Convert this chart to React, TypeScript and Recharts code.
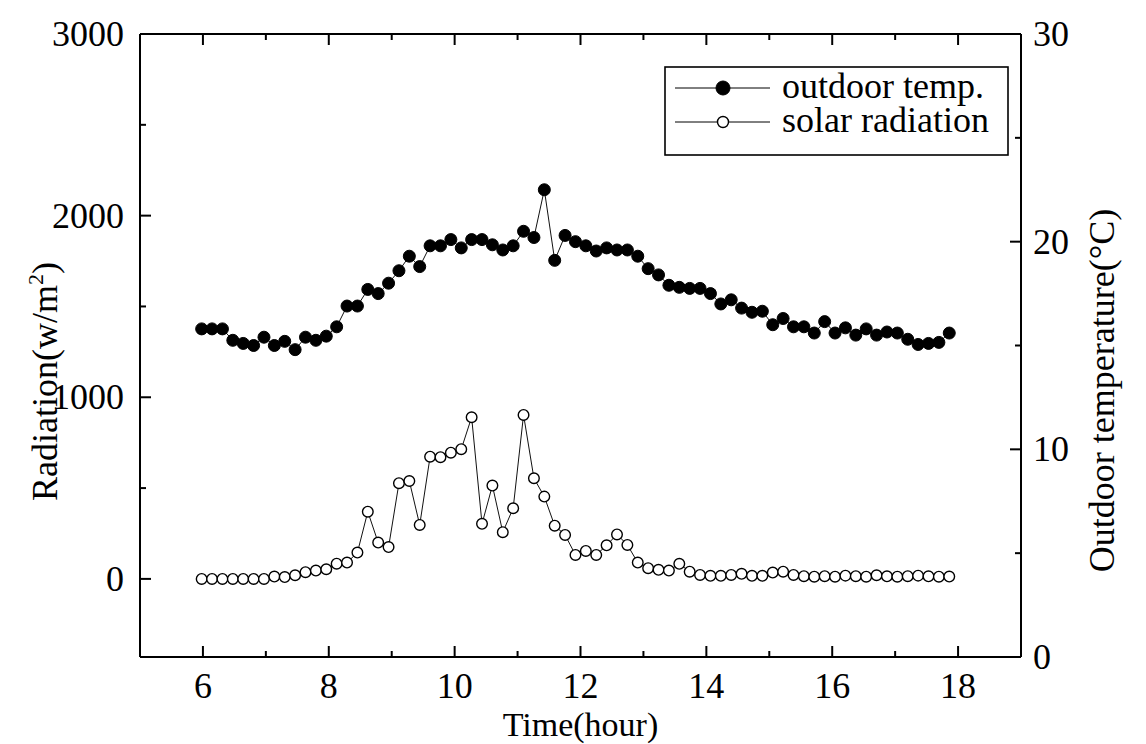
import React from "react";
import { ComposedChart, Line, XAxis, YAxis } from "recharts";

// Sample times (hour of day)
const hours = [
  5.98, 6.145, 6.31, 6.475, 6.64, 6.805, 6.97, 7.135, 7.3, 7.465,
  7.63, 7.795, 7.96, 8.125, 8.29, 8.455, 8.62, 8.785, 8.95, 9.115,
  9.28, 9.445, 9.61, 9.775, 9.94, 10.105, 10.27, 10.435, 10.6, 10.765,
  10.93, 11.095, 11.26, 11.425, 11.59, 11.755, 11.92, 12.085, 12.25, 12.415,
  12.58, 12.745, 12.91, 13.075, 13.24, 13.405, 13.57, 13.735, 13.9, 14.065,
  14.23, 14.395, 14.56, 14.725, 14.89, 15.055, 15.22, 15.385, 15.55, 15.715,
  15.88, 16.045, 16.21, 16.375, 16.54, 16.705, 16.87, 17.035, 17.2, 17.365,
  17.53, 17.695, 17.86,
];

// Outdoor temperature (°C), right axis
const outdoorTemp = [
  15.8, 15.8, 15.8, 15.25, 15.1, 15.0, 15.4, 15.0, 15.2, 14.8,
  15.4, 15.25, 15.45, 15.9, 16.9, 16.9, 17.7, 17.5, 18.0, 18.6,
  19.3, 18.8, 19.8, 19.8, 20.1, 19.7, 20.1, 20.1, 19.85, 19.6,
  19.8, 20.5, 20.2, 22.5, 19.1, 20.3, 20.0, 19.8, 19.55, 19.7,
  19.6, 19.6, 19.3, 18.7, 18.4, 17.9, 17.8, 17.75, 17.75, 17.5,
  17.0, 17.2, 16.8, 16.6, 16.65, 16.0, 16.3, 15.9, 15.9, 15.6,
  16.15, 15.6, 15.85, 15.5, 15.8, 15.5, 15.65, 15.6, 15.3, 15.05,
  15.1, 15.15, 15.6,
];

// Solar radiation (w/m2), left axis
const solarRadiation = [
  0, 0, 0, 0, 0, 0, 0, 13, 10, 20,
  37, 46, 53, 84, 90, 145, 370, 200, 175, 527,
  539, 297, 673, 670, 695, 714, 890, 303, 514, 257,
  389, 903, 554, 453, 293, 242, 132, 154, 132, 185,
  245, 187, 90, 59, 50, 46, 83, 40, 22, 17,
  17, 22, 28, 17, 17, 35, 40, 22, 15, 12,
  15, 12, 18, 15, 12, 20, 14, 12, 15, 18,
  14, 12, 13,
];

const xTicks = [6, 7, 8, 9, 10, 11, 12, 13, 14, 15, 16, 17, 18];
const xTickLabels = [6, 8, 10, 12, 14, 16, 18];
const radTicks = [0, 500, 1000, 1500, 2000, 2500, 3000];
const radTickLabels = [0, 1000, 2000, 3000];
const tempTicks = [0, 5, 10, 15, 20, 25, 30];
const tempTickLabels = [0, 10, 20, 30];

const legendNames = ["outdoor temp.", "solar radiation"];
const xTitle = "Time(hour)";
const leftTitle = "Radiation(w/m";
const rightTitle = "Outdoor temperature(°C)";

const data = hours.map((t, i) => ({
  t,
  temp: outdoorTemp[i],
  rad: solarRadiation[i],
}));

const FONT = '"Liberation Serif", "Times New Roman", serif';
const FS = 36;
const MAJOR = 11;
const MINOR = 6;
const TOP_H = 34; // strip above the plot (top frame position)

const BottomTick = (p: any) => {
  const { x, y, payload } = p;
  const major = xTickLabels.includes(payload.value);
  const len = major ? MAJOR : MINOR;
  return (
    <g>
      {/* inward tick on the bottom frame */}
      <line x1={x} x2={x} y1={y} y2={y - len} stroke="#000" strokeWidth={2} />
      {/* mirrored inward tick on the top frame */}
      <line x1={x} x2={x} y1={TOP_H} y2={TOP_H + len} stroke="#000" strokeWidth={2} />
      {major && (
        <text x={x} y={y + 41} textAnchor="middle" fontSize={FS} fontFamily={FONT} fill="#000">
          {payload.value}
        </text>
      )}
    </g>
  );
};

const LeftTick = (p: any) => {
  const { x, y, payload } = p;
  const major = radTickLabels.includes(payload.value);
  return (
    <g>
      <line x1={x} x2={x + (major ? MAJOR : MINOR)} y1={y} y2={y} stroke="#000" strokeWidth={2} />
      {major && (
        <text x={x - 16} y={y + 12} textAnchor="end" fontSize={FS} fontFamily={FONT} fill="#000">
          {payload.value}
        </text>
      )}
    </g>
  );
};

const RightTick = (p: any) => {
  const { x, y, payload } = p;
  const major = tempTickLabels.includes(payload.value);
  return (
    <g>
      <line x1={x} x2={x - (major ? MAJOR : MINOR)} y1={y} y2={y} stroke="#000" strokeWidth={2} />
      {major && (
        <text x={x + 12} y={y + 12} textAnchor="start" fontSize={FS} fontFamily={FONT} fill="#000">
          {payload.value}
        </text>
      )}
    </g>
  );
};

const axisLine = { stroke: "#000", strokeWidth: 2 };

const Legend = () => (
  <svg
    width={346}
    height={92}
    style={{ position: "absolute", left: 664, top: 66 }}
  >
    <rect x={1} y={1} width={343} height={88} fill="#fff" stroke="#000" strokeWidth={1.6} />
    {legendNames.map((name, i) => {
      const cy = 22 + i * 34;
      return (
        <g key={name}>
          <line x1={11} x2={106} y1={cy} y2={cy} stroke="#000" strokeWidth={1} />
          {i === 0 ? (
            <circle cx={59} cy={cy} r={7} fill="#000" stroke="#000" />
          ) : (
            <circle cx={59} cy={cy} r={5.5} fill="#fff" stroke="#000" strokeWidth={1.4} />
          )}
          <text x={118} y={cy + 10} fontSize={FS} fontFamily={FONT} fill="#000">
            {name}
          </text>
        </g>
      );
    })}
  </svg>
);

export default function App() {
  return (
    <div
      style={{
        position: "absolute",
        left: 0,
        top: 0,
        width: 1146,
        height: 744,
        background: "#fff",
      }}
    >
      <ComposedChart
        width={1146}
        height={744}
        data={data}
        margin={{ top: 0, right: 0, bottom: 0, left: 0 }}
      >
        <XAxis
          xAxisId="b"
          dataKey="t"
          type="number"
          domain={[5, 19]}
          ticks={xTicks}
          interval={0}
          tickSize={0}
          tickMargin={0}
          height={87}
          axisLine={axisLine}
          tickLine={false}
          tick={(p: any) => <BottomTick {...p} />}
          label={(props: any) => {
            const vb = props.viewBox;
            return (
              <text
                x={vb.x + vb.width / 2}
                y={vb.y + 79}
                textAnchor="middle"
                fontSize={34}
                fontFamily={FONT}
                fill="#000"
              >
                {xTitle}
              </text>
            );
          }}
        />
        <XAxis
          xAxisId="t"
          orientation="top"
          height={TOP_H}
          axisLine={axisLine}
          tickLine={false}
          tick={false}
        />
        <YAxis
          yAxisId="l"
          orientation="left"
          type="number"
          domain={[-430, 3000]}
          ticks={radTicks}
          interval={0}
          tickSize={0}
          tickMargin={0}
          width={140}
          axisLine={axisLine}
          tickLine={false}
          tick={(p: any) => <LeftTick {...p} />}
          label={(props: any) => {
            const vb = props.viewBox;
            const cx = vb.x + 57;
            const cy = vb.y + vb.height / 2 + 36;
            return (
              <text
                x={cx}
                y={cy}
                transform={`rotate(-90 ${cx} ${cy})`}
                textAnchor="middle"
                fontSize={FS}
                fontFamily={FONT}
                fill="#000"
              >
                <tspan>{leftTitle}</tspan>
                <tspan dy={-14} fontSize={22}>2</tspan>
                <tspan dy={14}>)</tspan>
              </text>
            );
          }}
        />
        <YAxis
          yAxisId="r"
          orientation="right"
          type="number"
          domain={[0, 30]}
          ticks={tempTicks}
          interval={0}
          tickSize={0}
          tickMargin={0}
          width={125}
          axisLine={axisLine}
          tickLine={false}
          tick={(p: any) => <RightTick {...p} />}
          label={(props: any) => {
            const vb = props.viewBox;
            const cx = vb.x + 93;
            const cy = vb.y + vb.height / 2 + 45;
            return (
              <text
                x={cx}
                y={cy}
                transform={`rotate(-90 ${cx} ${cy})`}
                textAnchor="middle"
                fontSize={FS}
                fontFamily={FONT}
                fill="#000"
              >
                {rightTitle}
              </text>
            );
          }}
        />
        <Line
          xAxisId="b"
          yAxisId="l"
          dataKey="rad"
          name={legendNames[1]}
          type="linear"
          stroke="#111"
          strokeWidth={1}
          dot={{ r: 5.3, fill: "#fff", stroke: "#000", strokeWidth: 1.4 }}
          activeDot={false}
          isAnimationActive={false}
        />
        <Line
          xAxisId="b"
          yAxisId="r"
          dataKey="temp"
          name={legendNames[0]}
          type="linear"
          stroke="#111"
          strokeWidth={1}
          dot={{ r: 6, fill: "#000", stroke: "#000", strokeWidth: 1 }}
          activeDot={false}
          isAnimationActive={false}
        />
      </ComposedChart>
      <Legend />
    </div>
  );
}
